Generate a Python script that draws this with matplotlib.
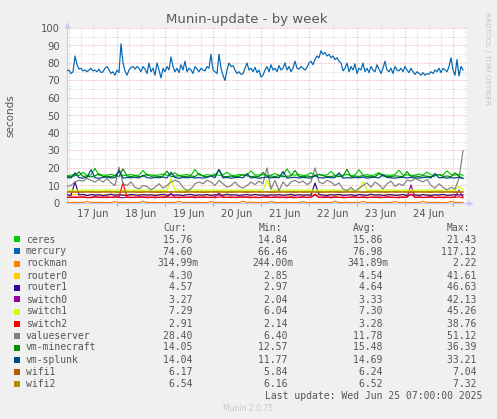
import numpy as np
import matplotlib
matplotlib.use("Agg")
from matplotlib import pyplot as plt
from matplotlib.patches import Rectangle

W, H = 497, 419

# hours since 17 Jun 00:00
hours_1h = np.arange(-1, 198)
hours_2h = np.arange(-1, 198, 2)

mercury = [75.5, 76, 74, 75, 84, 79, 76.5, 77, 75.5, 76,
           75, 76, 77, 75.5, 76, 75, 76.5, 74.5, 75, 77,
           78, 76, 74, 75, 73, 76, 74.5, 91, 80, 75.5,
           73, 76, 77.5, 78, 76.5, 78, 77, 75, 78, 76.5,
           74, 80, 75, 77, 73, 80, 76, 71.5, 77, 75,
           78, 76, 83.5, 78, 75, 77, 74.5, 79, 76, 81,
           75, 77, 76, 74, 78, 76.5, 75, 77, 76, 75.5,
           78, 77, 85, 76, 75, 74, 85, 77, 73, 70,
           76, 80, 78, 78.5, 76, 74, 75, 73.5, 74, 77,
           80, 76, 77, 75, 77.5, 74.5, 76, 72, 73, 76,
           78, 75, 79, 76, 77, 75, 78.5, 76, 77, 80,
           76, 78, 75, 77, 81, 77, 76.5, 78, 77, 76,
           77.5, 80, 81, 79, 82, 84, 83, 87, 85, 86,
           84, 85, 83, 84, 82, 83, 81, 80, 75.5, 77,
           80, 75, 78, 76, 79.5, 74, 77, 76, 80, 75,
           77, 74.5, 78, 76, 75, 79, 76.5, 74, 77, 81,
           76, 75, 77, 74, 78, 76, 75.5, 77, 75, 78,
           76, 74.5, 77, 75, 73.5, 75, 74, 73, 74.5, 73,
           74, 73.5, 75, 74, 76, 75, 77, 74.5, 77, 76,
           75, 78, 83, 76, 73, 82, 72.5, 78, 76]

ceres = [15.6, 15.9, 16.2, 15.7, 17.5, 15.8, 16.0, 19.8, 15.7, 16.1,
         15.9, 16.4, 15.8, 17.9, 15.6, 16.0, 16.3, 15.8, 15.9, 18.6,
         15.7, 16.1, 15.9, 16.0, 16.6, 15.8, 16.2, 17.2, 15.7, 15.9,
         16.3, 15.8, 19.2, 16.0, 15.7, 16.2, 15.9, 16.5, 15.8, 16.1,
         17.6, 15.9, 15.7, 16.3, 16.0, 15.8, 18.4, 16.1, 15.9, 16.2,
         15.7, 16.0, 16.8, 15.9, 15.8, 19.5, 16.1, 15.9, 16.3, 15.7,
         16.0, 17.3, 15.8, 16.2, 15.9, 16.0, 18.1, 15.8, 16.1, 15.9,
         16.4, 15.7, 16.0, 19.0, 15.9, 16.2, 15.8, 16.1, 17.4, 15.9,
         16.0, 15.8, 16.3, 18.8, 15.9, 16.1, 15.7, 16.0, 16.5, 15.9,
         17.7, 16.1, 15.8, 16.2, 16.0, 18.3, 16.4, 15.9, 16.6, 15.8]

rockman = [0.3, 0.3, 0.4, 0.3, 0.3, 0.9, 0.3, 0.3, 0.4, 0.3,
           0.3, 0.3, 0.8, 0.3, 0.4, 0.3, 0.3, 0.3, 0.3, 1.0,
           0.3, 0.4, 0.3, 0.3, 0.3, 0.3, 0.4, 0.3, 0.9, 0.3,
           0.3, 0.3, 0.4, 0.3, 0.3, 0.3, 0.8, 0.3, 0.3, 0.4,
           0.3, 0.3, 0.3, 0.3, 1.0, 0.3, 0.4, 0.3, 0.3, 0.3,
           0.3, 0.9, 0.3, 0.3, 0.4, 0.3, 0.3, 0.3, 0.3, 0.8,
           0.3, 0.3, 0.4, 0.3, 0.3, 0.3, 0.3, 1.0, 0.3, 0.3,
           0.4, 0.3, 0.3, 0.3, 0.9, 0.3, 0.3, 0.4, 0.3, 0.3,
           0.3, 0.3, 0.8, 0.3, 0.3, 0.4, 0.3, 0.3, 0.3, 1.0,
           0.3, 0.3, 0.4, 0.3, 0.3, 0.3, 0.9, 0.3, 0.3, 0.3]

router0 = [4.6, 4.3, 5.0, 4.4, 4.7, 4.2, 4.9, 4.5, 4.3, 4.8,
           4.4, 4.6, 5.1, 4.3, 4.5, 4.7, 4.2, 4.6, 4.9, 4.4,
           4.5, 4.3, 4.8, 4.6, 4.2, 4.7, 5.0, 4.4, 4.5, 4.3,
           4.9, 4.6, 4.4, 4.7, 4.2, 4.5, 4.8, 4.3, 4.6, 5.0,
           4.4, 4.5, 4.7, 4.2, 4.6, 4.9, 4.3, 4.5, 4.8, 4.4,
           4.6, 4.3, 5.1, 4.5, 4.4, 4.7, 4.2, 4.6, 4.9, 4.3,
           4.5, 4.8, 4.4, 4.6, 4.2, 4.7, 5.0, 4.3, 4.5, 4.6,
           4.4, 4.9, 4.3, 4.5, 4.7, 4.2, 4.6, 4.8, 4.4, 4.5,
           5.0, 4.3, 4.6, 4.4, 4.7, 4.2, 4.9, 4.5, 4.3, 4.6,
           4.8, 4.4, 4.5, 4.2, 4.7, 4.6, 4.3, 4.9, 4.5, 4.3]

router1 = [4.7, 4.4, 12.0, 4.6, 4.9, 4.3, 4.8, 4.5, 4.7, 4.2,
           4.6, 5.0, 4.4, 4.7, 4.5, 4.3, 4.9, 4.6, 4.4, 4.8,
           4.5, 4.7, 4.3, 4.6, 5.0, 4.4, 4.8, 4.5, 4.6, 4.3,
           4.7, 4.9, 4.4, 4.6, 4.5, 4.8, 4.3, 4.7, 4.6, 4.4,
           5.0, 4.5, 4.7, 4.3, 4.6, 4.8, 4.4, 4.9, 4.5, 4.6,
           4.3, 4.7, 4.5, 4.8, 4.4, 4.6, 5.0, 4.3, 4.7, 4.5,
           4.6, 4.4, 11.4, 4.8, 4.5, 4.3, 4.7, 4.6, 4.9, 4.4,
           4.5, 4.7, 4.3, 4.8, 4.6, 4.4, 5.0, 4.5, 4.7, 4.3,
           4.6, 4.8, 4.4, 4.5, 4.9, 4.3, 4.7, 4.6, 4.4, 4.8,
           4.5, 4.3, 4.7, 4.6, 4.9, 4.4, 4.5, 4.8, 4.6, 4.6]

switch0 = [3.3, 3.1, 3.5, 3.2, 3.4, 3.0, 3.3, 3.6, 3.2, 3.4,
           3.1, 3.3, 3.5, 3.2, 3.0, 3.4, 3.3, 3.1, 3.5, 3.2,
           3.4, 3.3, 3.0, 3.2, 3.5, 3.3, 5.5, 3.1, 3.4, 3.2,
           3.3, 3.5, 3.0, 3.4, 3.2, 3.3, 3.1, 3.5, 5.7, 3.2,
           3.3, 3.4, 3.1, 3.2, 3.5, 3.3, 3.0, 3.4, 3.2, 3.3,
           3.5, 3.1, 3.3, 3.4, 3.2, 3.0, 3.5, 3.3, 3.2, 3.4,
           3.1, 3.3, 4.6, 3.2, 3.4, 3.5, 3.0, 3.3, 3.2, 3.4,
           3.1, 3.3, 3.5, 3.2, 3.4, 3.0, 3.3, 3.2, 3.5, 3.1,
           3.4, 3.3, 3.2, 3.0, 3.5, 3.3, 10.3, 3.2, 3.4, 3.1,
           3.3, 3.5, 3.2, 3.4, 3.0, 3.3, 3.2, 3.5, 7.4, 3.3]

switch1 = [7.4, 7.3, 7.5, 7.3, 7.2, 7.4, 7.3, 7.5, 7.4, 7.2,
           7.3, 7.4, 7.3, 7.5, 7.3, 7.2, 7.4, 7.3, 7.4, 7.2,
           7.3, 7.5, 7.3, 7.4, 7.2, 7.3, 14.0, 7.4, 7.3, 7.2,
           7.4, 7.3, 7.5, 7.3, 7.2, 7.4, 7.3, 7.4, 7.2, 7.3,
           7.5, 7.3, 7.4, 7.2, 7.3, 7.4, 7.3, 7.5, 7.3, 7.2,
           13.0, 7.4, 7.3, 7.2, 7.4, 7.3, 7.5, 7.3, 7.4, 7.2,
           7.3, 7.4, 7.3, 7.2, 7.5, 7.3, 7.4, 7.3, 7.2, 7.4,
           7.3, 7.5, 7.3, 7.2, 12.2, 7.4, 7.3, 7.2, 7.4, 7.3,
           7.5, 7.3, 7.4, 7.2, 7.3, 7.4, 7.3, 7.2, 7.4, 7.3,
           7.5, 7.3, 7.4, 7.2, 7.3, 7.4, 7.3, 7.5, 9.5, 7.3]

switch2 = [3.2, 3.4, 3.1, 3.3, 3.5, 3.2, 3.0, 3.4, 3.3, 3.1,
           3.5, 3.2, 3.3, 3.4, 11.6, 3.2, 3.1, 3.4, 3.3, 3.5,
           3.0, 3.2, 3.4, 3.3, 3.1, 3.5, 3.2, 3.3, 3.0, 3.4,
           3.2, 3.3, 3.5, 3.1, 3.4, 3.2, 3.3, 3.0, 3.4, 3.5,
           3.2, 3.1, 3.3, 3.4, 3.2, 3.5, 3.3, 3.1, 3.0, 3.4,
           3.3, 3.2, 3.5, 3.1, 3.3, 3.4, 3.2, 3.0, 3.3, 3.5,
           3.2, 3.4, 5.0, 3.3, 3.1, 3.2, 3.4, 3.5, 3.3, 3.0,
           3.2, 3.4, 3.3, 3.1, 3.5, 3.2, 3.3, 3.4, 3.0, 3.2,
           3.5, 3.3, 3.1, 3.4, 3.2, 3.3, 5.2, 3.1, 3.4, 3.2,
           3.3, 3.5, 3.0, 3.2, 3.4, 3.3, 3.1, 3.3, 3.5, 2.9]

valueserver = [9.5, 10, 12,
               13, 12.5, 14, 13, 12, 13.5, 12, 14, 11.5, 10,
               20.5,
               11, 10, 12, 9, 8, 10, 9.5, 7.5, 9, 11, 8.5,
               10, 12, 13, 12, 9, 7, 8, 11, 12,
               11, 13, 12, 10, 13, 11, 9, 10, 12, 9.5, 8.5, 10,
               12, 10.5, 12.5, 11,
               20,
               8, 13, 7, 12, 9.5,
               12, 13, 11.5, 12.5, 10.5, 12,
               20,
               12, 11, 13, 12, 10, 11.5,
               8, 7, 9, 6.5, 8.5,
               10, 11.5, 9, 12, 10.5, 8, 11, 12.5, 9.5, 11, 10,
               13, 12.5, 14, 13, 12, 13.5,
               10, 8.5, 11, 9, 7.5, 9,
               8, 14, 30]

vm_minecraft = [15.3, 15.0, 15.6, 17.8, 15.2, 15.4, 14.9, 15.5, 16.8, 15.1,
                15.3, 15.0, 15.7, 15.2, 19.5, 15.4, 15.1, 15.6, 15.0, 15.3,
                16.5, 15.2, 15.5, 15.0, 15.4, 18.2, 15.1, 15.3, 15.6, 15.0,
                15.2, 15.5, 15.1, 16.9, 15.3, 15.0, 15.4, 15.6, 19.0, 15.2,
                15.1, 15.4, 15.0, 15.3, 16.2, 15.5, 15.1, 15.3, 15.0, 17.5,
                15.2, 15.4, 15.1, 15.6, 15.0, 15.3, 15.5, 18.6, 15.2, 15.0,
                15.4, 15.1, 15.3, 16.4, 15.6, 15.0, 15.2, 15.5, 15.1, 15.3,
                19.2, 15.0, 15.4, 15.2, 15.6, 15.1, 15.3, 15.0, 16.7, 15.4,
                15.2, 15.1, 15.5, 15.3, 15.0, 17.9, 15.2, 15.4, 15.1, 15.6,
                15.3, 15.0, 15.5, 16.3, 15.2, 15.4, 15.1, 17.2, 15.3, 14.1]

vm_splunk = [14.6, 14.3, 17.2, 14.5, 14.2, 14.7, 19.0, 14.4, 14.1, 14.6,
             14.8, 14.3, 14.5, 18.5, 14.2, 14.6, 14.4, 14.7, 14.3, 15.9,
             14.5, 14.2, 14.6, 14.4, 14.8, 14.3, 17.6, 14.5, 14.1, 14.6,
             14.4, 14.7, 14.3, 14.5, 14.2, 14.6, 15.5, 14.4, 19.2, 14.3,
             14.6, 14.2, 14.5, 14.7, 14.4, 16.8, 14.3, 14.6, 14.1, 14.5,
             14.8, 14.3, 14.6, 14.4, 18.0, 14.2, 14.5, 14.7, 14.3, 14.6,
             14.4, 14.2, 15.8, 14.5, 14.3, 14.7, 14.4, 14.6, 17.3, 14.2,
             14.5, 14.3, 14.6, 14.4, 14.8, 14.2, 14.5, 14.7, 14.3, 16.2,
             14.6, 14.4, 14.2, 14.5, 14.7, 14.3, 14.6, 14.4, 14.2, 14.5,
             14.8, 14.3, 16.9, 14.4, 14.6, 14.2, 14.5, 14.3, 14.7, 14.0]

wifi1 = [6.2, 6.3, 6.2, 6.1, 6.2, 6.3, 6.2, 6.2, 6.1, 6.3,
         6.2, 6.2, 6.3, 6.1, 6.2, 6.2, 6.3, 6.2, 6.1, 6.2,
         6.3, 6.2, 6.2, 6.1, 6.3, 6.2, 6.2, 6.3, 6.2, 6.1,
         6.2, 6.3, 6.2, 6.2, 6.1, 6.2, 6.3, 6.2, 6.2, 6.3,
         6.1, 6.2, 6.2, 6.3, 6.2, 6.1, 6.2, 6.3, 6.2, 6.2,
         6.3, 6.1, 6.2, 6.2, 6.3, 6.2, 6.2, 6.1, 6.3, 6.2,
         6.2, 6.3, 6.2, 6.1, 6.2, 6.2, 6.3, 6.2, 6.1, 6.2,
         6.3, 6.2, 6.2, 6.3, 6.1, 6.2, 6.2, 6.3, 6.2, 6.2,
         6.1, 6.3, 6.2, 6.2, 6.3, 6.2, 6.1, 6.2, 6.3, 6.2,
         6.2, 6.1, 6.3, 6.2, 6.2, 6.3, 6.2, 6.1, 6.2, 6.2]

wifi2 = [6.5, 6.6, 6.5, 6.4, 6.5, 6.5, 6.6, 6.5, 6.4, 6.5,
         6.6, 6.5, 6.5, 6.4, 6.6, 6.5, 6.5, 6.6, 6.4, 6.5,
         6.5, 6.6, 6.5, 6.5, 6.4, 6.5, 6.6, 6.5, 6.5, 6.4,
         6.6, 6.5, 6.5, 6.6, 6.4, 6.5, 6.5, 6.6, 6.5, 6.4,
         6.5, 6.6, 6.5, 6.5, 6.4, 6.6, 6.5, 6.5, 6.6, 6.4,
         6.5, 6.5, 6.6, 6.5, 6.4, 6.5, 6.6, 6.5, 6.5, 6.4,
         6.6, 6.5, 6.5, 6.6, 6.4, 6.5, 6.5, 6.6, 6.5, 6.4,
         6.5, 6.6, 6.5, 6.5, 6.4, 6.6, 6.5, 6.5, 6.6, 6.4,
         6.5, 6.5, 6.6, 6.5, 6.4, 6.5, 6.6, 6.5, 6.5, 6.4,
         6.6, 6.5, 6.5, 6.6, 6.4, 6.5, 6.5, 6.6, 6.5, 6.5]

names = ["ceres", "mercury", "rockman", "router0", "router1", "switch0", "switch1",
         "switch2", "valueserver", "vm-minecraft", "vm-splunk", "wifi1", "wifi2"]
colors = ["#00CC00", "#0066B3", "#FF8000", "#FFCC00", "#330099", "#990099", "#CCFF00",
          "#FF0000", "#808080", "#008F00", "#00487D", "#B35A00", "#B38F00"]
cur = ["15.76 ", "74.60 ", "314.99m", "4.30 ", "4.57 ", "3.27 ", "7.29 ",
       "2.91 ", "28.40 ", "14.05 ", "14.04 ", "6.17 ", "6.54 "]
mins = ["14.84 ", "66.46 ", "244.00m", "2.85 ", "2.97 ", "2.04 ", "6.04 ",
        "2.14 ", "6.40 ", "12.57 ", "11.77 ", "5.84 ", "6.16 "]
avgs = ["15.86 ", "76.98 ", "341.89m", "4.54 ", "4.64 ", "3.33 ", "7.30 ",
        "3.28 ", "11.78 ", "15.48 ", "14.69 ", "6.24 ", "6.52 "]
maxs = ["21.43 ", "117.12 ", "2.22 ", "41.61 ", "46.63 ", "42.13 ", "45.26 ",
        "38.76 ", "51.12 ", "36.39 ", "33.21 ", "7.04 ", "7.32 "]
day_labels = ["17 Jun", "18 Jun", "19 Jun", "20 Jun", "21 Jun", "22 Jun", "23 Jun", "24 Jun"]

series = [(hours_2h, ceres), (hours_1h, mercury), (hours_2h, rockman),
          (hours_2h, router0), (hours_2h, router1), (hours_2h, switch0),
          (hours_2h, switch1), (hours_2h, switch2), (hours_2h, valueserver),
          (hours_2h, vm_minecraft), (hours_2h, vm_splunk), (hours_2h, wifi1),
          (hours_2h, wifi2)]

txt = "#555555"
mono = "DejaVu Sans Mono"

fig = plt.figure(figsize=(W / 100, H / 100), dpi=100, facecolor="#F0F0F0")
ax = fig.add_axes([67 / W, 1 - 203 / H, 400 / W, 175 / H])
ax.set_facecolor("white")
ax.set_xlim(-1, 199)
ax.set_ylim(0, 100)

# grid: minor every 6h / 5 units (grey), major at midnight / 10 units (red)
for h in range(0, 199, 6):
    c = "#F2A0A0" if h % 24 == 0 else "#CFCFCF"
    ax.axvline(h, color=c, lw=0.72, ls=(0, (1, 2)), zorder=1)
for v in range(5, 101, 5):
    c = "#F2A0A0" if v % 10 == 0 else "#CFCFCF"
    ax.axhline(v, color=c, lw=0.72, ls=(0, (1, 2)), zorder=1)

for (x, y), col in zip(series, colors):
    ax.plot(x, y, color=col, lw=0.85, zorder=3)

for s in ["top", "right"]:
    ax.spines[s].set_visible(False)
for s in ["left", "bottom"]:
    ax.spines[s].set_color("#C8C8F8")
    ax.spines[s].set_linewidth(0.8)
ax.plot([0], [1.018], marker="^", ms=4.5, color="#C8C8F8", mec="none",
        transform=ax.transAxes, clip_on=False)
ax.plot([1.008], [0], marker=">", ms=4.5, color="#C8C8F8", mec="none",
        transform=ax.transAxes, clip_on=False)

ax.set_yticks(range(0, 101, 10))
ax.tick_params(axis="y", length=0, pad=5, labelsize=7.2, labelcolor=txt)
ax.set_xticks(range(24, 199, 24), [""] * 8)
ax.set_xticks(range(12, 199, 24), day_labels, minor=True)
ax.tick_params(axis="x", which="major", length=2.5, color="#AAAAAA")
ax.tick_params(axis="x", which="minor", length=0, pad=4, labelsize=7.2, labelcolor=txt)

def px(x, y):
    return x / W, 1 - y / H

fig.text(*px(247, 20), "Munin-update - by week", ha="center", va="center",
         fontsize=9.5, color="#5a5a5a")
fig.text(*px(10, 116), "seconds", ha="center", va="center", rotation=90,
         fontsize=7.5, color=txt)
fig.text(*px(487, 58), "RRDTOOL / TOBI OETIKER", ha="center", va="center",
         rotation=270, fontsize=5.2, color="#C4C4C4")

# legend table
fig.text(*px(187, 228), "Cur:", ha="right", va="center", fontsize=7, family=mono, color=txt)
fig.text(*px(282, 228), "Min:", ha="right", va="center", fontsize=7, family=mono, color=txt)
fig.text(*px(376, 228), "Avg:", ha="right", va="center", fontsize=7, family=mono, color=txt)
fig.text(*px(470, 228), "Max:", ha="right", va="center", fontsize=7, family=mono, color=txt)
for i, name in enumerate(names):
    y = 239.5 + 12 * i
    fig.add_artist(Rectangle(px(14, y + 3), 6 / W, 6 / H, transform=fig.transFigure,
                             facecolor=colors[i], edgecolor="none"))
    fig.text(*px(26, y), name, ha="left", va="center", fontsize=7, family=mono, color=txt)
    fig.text(*px(198.5, y), cur[i], ha="right", va="center", fontsize=7, family=mono, color=txt)
    fig.text(*px(293.5, y), mins[i], ha="right", va="center", fontsize=7, family=mono, color=txt)
    fig.text(*px(388, y), avgs[i], ha="right", va="center", fontsize=7, family=mono, color=txt)
    fig.text(*px(482.5, y), maxs[i], ha="right", va="center", fontsize=7, family=mono, color=txt)

fig.text(*px(482.5, 395.5), "Last update: Wed Jun 25 07:00:00 2025", ha="right", va="center",
         fontsize=7, family=mono, color=txt)
fig.text(*px(248, 408), "Munin 2.0.75", ha="center", va="center", fontsize=5.5, color="#C8C8C8")

fig.savefig("out.png", dpi=100, facecolor=fig.get_facecolor())
